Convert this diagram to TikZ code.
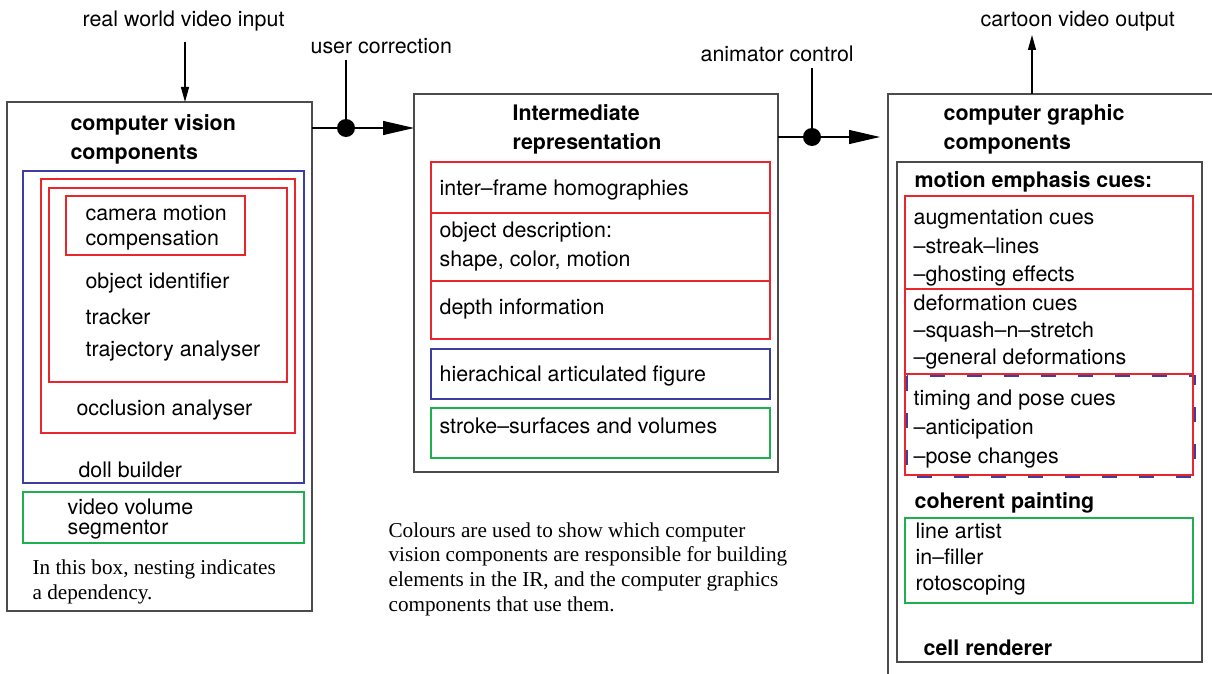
\documentclass[tikz,border=0pt]{standalone}
\usepackage{fontspec}
\setmainfont{Liberation Serif}
\setsansfont{TeX Gyre Heros}
\usetikzlibrary{arrows.meta,positioning}
\definecolor{boxred}{RGB}{232,38,44}
\definecolor{boxblue}{RGB}{62,62,160}
\definecolor{boxgreen}{RGB}{30,175,80}
\definecolor{boxgrey}{RGB}{75,75,75}
\tikzset{
    outer/.style={draw=boxgrey, line width=0.8pt},
    redbox/.style={draw=boxred, line width=0.55pt},
    bluebox/.style={draw=boxblue, line width=0.55pt},
    greenbox/.style={draw=boxgreen, line width=0.55pt},
    txt/.style={anchor=west, inner sep=0pt, align=left, font=\sffamily\fontsize{10.7}{#1}\selectfont},
    txt/.default=14.5pt,
    hd/.style={anchor=west, inner sep=0pt, align=left, font=\sffamily\bfseries\fontsize{10.7}{14.5}\selectfont},
    note/.style={anchor=west, inner sep=0pt, align=left, font=\rmfamily\fontsize{10.6}{#1}\selectfont},
    bigtip/.style={-{Triangle[length=15.5pt,width=7pt]}},
    smalltip/.style={-{Triangle[length=7.5pt,width=4pt]}},
  }
\begin{document}
\begin{tikzpicture}[x=0.5pt,y=-0.5pt,line width=0.6pt]
  \useasboundingbox (0,0) rectangle (1212,674);
  \clip (0,0) rectangle (1212,674);
  %corners of the three main boxes
  \coordinate (cvTL) at (7,102);    \coordinate (cvBR) at (312,611);
  \coordinate (irTL) at (414,94);   \coordinate (irBR) at (778,472);
  \coordinate (cgTL) at (888,94);   \coordinate (cgBR) at (1240,700);
  \draw[outer] (cvTL) rectangle (cvBR);
  \draw[outer] (irTL) rectangle (irBR);
  \draw[outer] (cgTL) rectangle (cgBR);

  %computer vision components
  \node[hd] (cvtitle) at (70,139) {computer vision\\components};
  \draw[bluebox] (23,171) rectangle (304,483);
  \draw[redbox] (41,179) rectangle (295,433);
  \draw[redbox] (49,188) rectangle (287,382);
  \draw[redbox] (66,196) rectangle (245,255);
  \node[txt=12.5pt] (camera) at (85,227.5) {camera motion\\compensation};
  \node[txt] (objid) at (85,283) {object identifier};
  \node[txt] (tracker) at (85,317) {tracker};
  \node[txt] (traj) at (85,351) {trajectory analyser};
  \node[txt] (occl) at (76,410) {occlusion analyser};
  \node[txt] (doll) at (78,470) {doll builder};
  \draw[greenbox] (23,492) rectangle (304,543);
  \node[txt=10pt] (segm) at (67,519) {video volume\\segmentor};
  \node[note=12.5pt] (nesting) at (32,581.5) {In this box, nesting indicates\\a dependency.};

  %intermediate representation
  \node[hd] (irtitle) at (512,129) {Intermediate\\representation};
  \draw[redbox] (431,162) rectangle (770,213);
  \draw[redbox] (431,213) rectangle (770,281);
  \draw[redbox] (431,281) rectangle (770,339);
  \draw[bluebox] (431,349) rectangle (770,399);
  \draw[greenbox] (431,408) rectangle (770,458);
  \node[txt] (homog) at (439,190) {inter--frame homographies};
  \node[txt] (objdesc) at (439,246.5) {object description:\\shape, color, motion};
  \node[txt] (depth) at (439,309) {depth information};
  \node[txt] (figure) at (439,376) {hierachical articulated figure};
  \node[txt] (stroke) at (439,426) {stroke--surfaces and volumes};
  \node[note=12.3pt] (colours) at (388,569) {Colours are used to show which computer\\vision components are responsible for building\\elements in the IR, and the computer graphics\\components that use them.};

  %computer graphic components
  \node[hd] (cgtitle) at (943,129) {computer graphic\\components};
  \draw[outer] (897,162) rectangle (1202,662);
  \node[hd] (motion) at (914,182) {motion emphasis cues:};
  \draw[redbox] (905,196) rectangle (1193,289);
  \draw[redbox] (905,289) rectangle (1193,374);
  \draw[bluebox, dash pattern=on 7.5pt off 11pt] (907,376) rectangle (1195,477);
  \draw[redbox] (905,374) rectangle (1193,475);
  \node[txt=14.3pt] (augm) at (913,248) {augmentation cues\\--streak--lines\\--ghosting effects};
  \node[txt=13.3pt] (deform) at (913,332) {deformation cues\\--squash--n--stretch\\--general deformations};
  \node[txt=14.5pt] (timing) at (913,429) {timing and pose cues\\--anticipation\\--pose changes};
  \node[hd] (painting) at (914,503) {coherent painting};
  \draw[greenbox] (905,518) rectangle (1193,603);
  \node[txt=13pt] (artist) at (915,558.6) {line artist\\in--filler\\rotoscoping};
  \node[hd] (cell) at (923,648) {cell renderer};

  %inputs, outputs and controls
  \node[txt] (vin) at (82,21) {real world video input};
  \node[txt] (vout) at (980,21) {cartoon video output};
  \node[txt] (user) at (310,46) {user correction};
  \node[txt] (anim) at (700,54) {animator control};
  \coordinate (vinS) at (185,42);
  \coordinate (voutN) at (1032,35);
  \draw[smalltip] (vinS) -- (vinS |- cvTL);
  \draw[smalltip] (voutN |- cgTL) -- (voutN);
  \coordinate (ucdot) at (346,128);
  \coordinate (uctop) at (346,60);
  \draw (uctop) -- (ucdot);
  \draw[bigtip] (ucdot -| cvBR) -- (ucdot -| irTL);
  \fill (ucdot) circle[radius=4.5pt];
  \coordinate (acdot) at (812,137);
  \coordinate (actop) at (812,68);
  \coordinate (acend) at (880,137);
  \draw (actop) -- (acdot);
  \draw[bigtip] (acdot -| irBR) -- (acend);
  \fill (acdot) circle[radius=4.5pt];
\end{tikzpicture}
\end{document}
